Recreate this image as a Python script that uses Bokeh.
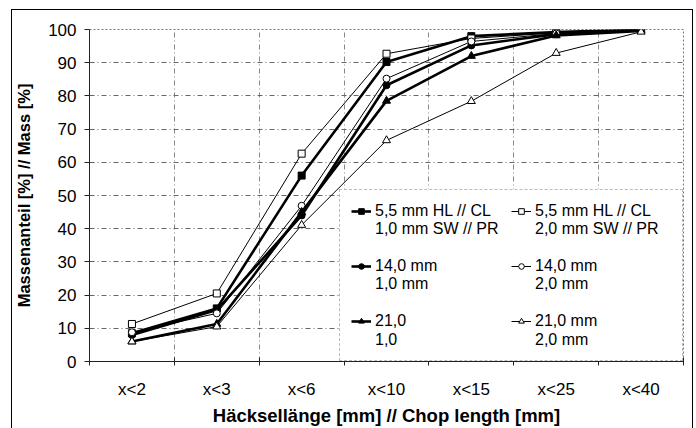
from bokeh.plotting import figure
from bokeh.models import (FixedTicker, Legend, LegendItem, Range1d)
from bokeh.embed import file_html
from bokeh.resources import INLINE

categories = ["x<2", "x<3", "x<6", "x<10", "x<15", "x<25", "x<40"]

s_55_10 = [8.5, 16.0, 56.0, 90.2, 98.0, 99.2, 100.0]
s_55_20 = [11.3, 20.5, 62.6, 92.7, 97.3, 99.0, 100.0]
s_14_10 = [8.0, 15.5, 44.0, 83.2, 95.2, 98.6, 100.0]
s_14_20 = [8.8, 14.5, 46.9, 85.2, 96.4, 98.8, 99.8]
s_21_10 = [6.0, 11.3, 45.0, 78.5, 92.0, 98.2, 99.6]
s_21_20 = [6.0, 10.5, 41.1, 66.6, 78.4, 92.9, 99.3]

label_line1 = ["5,5 mm HL // CL", "5,5 mm HL // CL", "14,0 mm", "14,0 mm", "21,0", "21,0 mm"]
label_line2 = ["1,0 mm SW // PR", "2,0 mm SW // PR", "1,0 mm", "2,0 mm", "1,0", "2,0 mm"]

series = [s_55_10, s_55_20, s_14_10, s_14_20, s_21_10, s_21_20]
markers = ["square", "square", "circle", "circle", "triangle", "triangle"]
filled = [True, False, True, False, True, False]

FONT = "Liberation Sans"

xs = [i + 0.5 for i in range(len(categories))]

p = figure(width=680, height=418, output_backend="svg", toolbar_location=None,
           x_range=Range1d(0, len(categories)), y_range=Range1d(0, 100),
           min_border_left=73, min_border_right=9, min_border_top=19,
           min_border_bottom=66)
p.margin = (10, 0, 0, 12)
p.styles = {"outline": "1.5px solid black"}
p.background_fill_color = "white"
p.border_fill_color = "white"
p.outline_line_color = "#777777"
p.outline_line_dash = "2 2"

# axes
p.xaxis.ticker = FixedTicker(ticks=xs, minor_ticks=list(range(len(categories) + 1)))
p.xaxis.major_label_overrides = {x: c for x, c in zip(xs, categories)}
p.xaxis.major_tick_in = 0
p.xaxis.major_tick_out = 0
p.xaxis.minor_tick_in = 4
p.xaxis.minor_tick_out = 4
p.xaxis.minor_tick_line_color = "#222222"
p.xaxis.major_label_standoff = 14
p.xaxis.axis_label = "Häcksellänge [mm] // Chop length [mm]"
p.xaxis.axis_label_standoff = 3

p.yaxis.ticker = FixedTicker(ticks=list(range(0, 101, 10)))
p.yaxis.major_tick_in = 0
p.yaxis.major_tick_out = 5
p.yaxis.minor_tick_line_color = None
p.yaxis.major_label_standoff = 8
p.yaxis.axis_label = "Massenanteil [%] // Mass [%]"
p.yaxis.axis_label_standoff = 12

for ax in (p.xaxis, p.yaxis):
    ax.axis_line_color = "#222222"
    ax.major_label_text_font = FONT
    ax.major_label_text_font_size = "17px"
    ax.major_label_text_color = "black"
    ax.axis_label_text_font = FONT
    ax.axis_label_text_font_style = "bold"
    ax.axis_label_text_color = "black"
p.xaxis.axis_label_text_font_size = "18.5px"
p.yaxis.axis_label_text_font_size = "16.5px"
p.xaxis.major_tick_line_color = None
p.yaxis.major_tick_line_color = "#222222"

# grids
p.ygrid.ticker = FixedTicker(ticks=list(range(10, 101, 10)))
p.ygrid.grid_line_color = "#666666"
p.ygrid.grid_line_dash = "5 3 1 3"
p.ygrid.grid_line_width = 1
p.xgrid.ticker = FixedTicker(ticks=list(range(1, len(categories))))
p.xgrid.grid_line_color = "#888888"
p.xgrid.grid_line_dash = "5 3 1 3"
p.xgrid.grid_line_width = 1

first_items = []
second_items = []
n = len(series)
for i, (ys, mk, f) in enumerate(zip(series, markers, filled)):
    lw = 2.6 if f else 1.0
    r1 = p.line(xs, ys, line_color="black", line_width=lw)
    r2 = p.scatter(xs, ys, marker=mk, size=7 if mk != "triangle" else 8,
                   line_color="black", line_width=1,
                   fill_color="black" if f else "white")
    blank = p.line(x=[], y=[], line_alpha=0)
    first_items.append(LegendItem(label=label_line1[i], renderers=[r1, r2]))
    last_row = i >= n - 2
    second_items.append(LegendItem(label=label_line2[i] + ("" if last_row else "\n "),
                                   renderers=[blank]))

# column-major legend: left column = 1,0 mm variants, right column = 2,0 mm variants
order = []
for col in (0, 1):
    for i in range(col, n, 2):
        order += [first_items[i], second_items[i]]

legend = Legend(items=order, ncols=2, location="bottom_right")
legend.label_text_font = FONT
legend.label_text_font_size = "16px"
legend.label_text_color = "black"
legend.label_standoff = 4
legend.label_width = 136
legend.label_height = 19
legend.glyph_width = 20
legend.glyph_height = 14
legend.spacing = 0
legend.padding = 11
legend.margin = 0
legend.border_line_color = "#777777"
legend.border_line_dash = "2 2"
legend.background_fill_color = "white"
legend.background_fill_alpha = 1.0
p.add_layout(legend, "center")

open("out.html", "w").write(file_html(p, INLINE))
